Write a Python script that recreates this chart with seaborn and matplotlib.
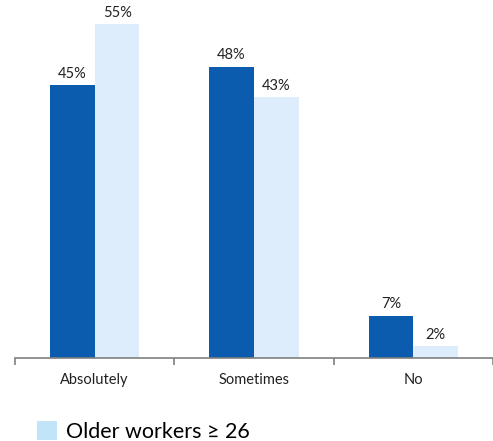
import matplotlib
matplotlib.use("Agg")
import matplotlib.pyplot as plt
from matplotlib.patches import Patch
import seaborn as sns
import pandas as pd

categories = ["Absolutely", "Sometimes", "No"]
series_names = ["Younger workers < 26", "Older workers ≥ 26"]
younger = [45, 48, 7]
older = [55, 43, 2]

dark = "#0B5CAE"
light = "#DDEDFC"
legend_light = "#C2E4F8"

df = pd.DataFrame({
    "category": categories * 2,
    "value": younger + older,
    "series": [series_names[0]] * 3 + [series_names[1]] * 3,
})

sns.set_theme(style="white")
plt.rcParams["font.family"] = ["Lato", "DejaVu Sans"]

W, H = 493, 441
fig = plt.figure(figsize=(W / 100, H / 100), dpi=100)
ax = fig.add_axes([15 / W, 1 - 358 / H, (493 - 15) / W, 358 / H])

sns.barplot(data=df, x="category", y="value", hue="series", order=categories,
            hue_order=series_names, palette=[dark, light], width=0.5625,
            linewidth=0, saturation=1, legend=False, ax=ax)

for cont in ax.containers:
    ax.bar_label(cont, labels=[f"{v:.0f}%" for v in cont.datavalues],
                 padding=3, fontsize=10.5, color="#222222")

ax.set_xlim(-0.5, 2.5 - 2 / 160)
ax.set_ylim(0, 358 / 6.07)
ax.set_xlabel("")
ax.set_ylabel("")
ax.set_yticks([])
for s in ["top", "right", "left"]:
    ax.spines[s].set_visible(False)
ax.spines["bottom"].set_color("#808080")
ax.spines["bottom"].set_linewidth(1.2)

ax.set_xticks([0, 1, 2])
ax.set_xticklabels(categories, fontsize=10.5, color="#222222")
ax.tick_params(axis="x", which="major", length=0, pad=11)
ax.set_xticks([-0.5, 0.5, 1.5, 2.5], minor=True)
ax.tick_params(axis="x", which="minor", length=5, width=1.2, color="#808080",
               direction="out", bottom=True)

handle = Patch(facecolor=legend_light, edgecolor="none")
fig.legend(handles=[handle], labels=[series_names[1]],
           loc="upper left", bbox_to_anchor=(37 / W, 1 - 421 / H),
           frameon=False, fontsize=15.5, handlelength=0.95, handleheight=0.95,
           handletextpad=0.4, borderpad=0, borderaxespad=0, labelcolor="black")

fig.savefig("out.png", dpi=100)
